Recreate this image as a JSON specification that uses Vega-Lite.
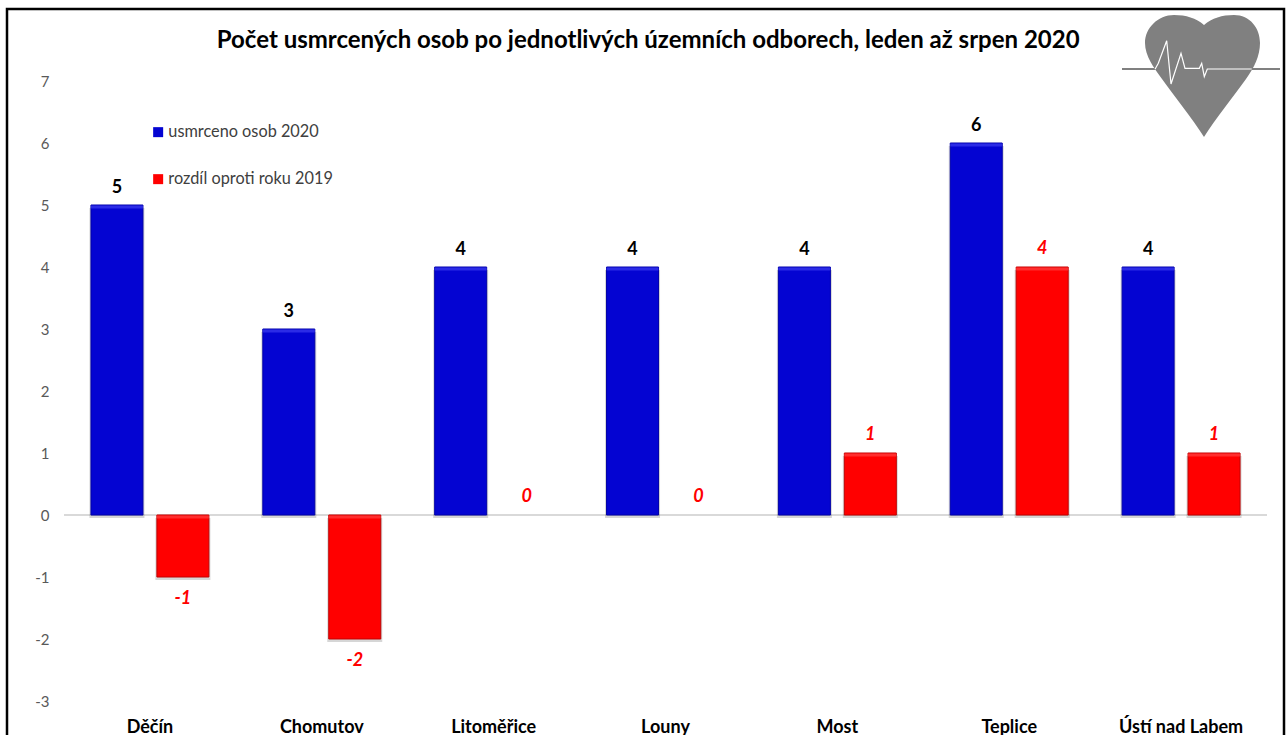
{
"$schema":"https://vega.github.io/schema/vega-lite/v6.json",
"width":1203,"height":620,
"autosize":{"type":"none"},
"padding":{"left":64,"top":81,"right":21,"bottom":34},
"background":"white",
"config":{"font":"Lato","view":{"stroke":null}},
"title":{"text":"Počet usmrcených osob po jednotlivých územních odborech, leden až srpen 2020","font":"Lato","fontSize":24,"fontWeight":"bold","color":"#000000","anchor":"start","offset":-45,"dx":211,"limit":1000},
"data":{"values":[
{"okres":"Děčín","rada":"usmrceno osob 2020","hodnota":5},
{"okres":"Děčín","rada":"rozdíl oproti roku 2019","hodnota":-1},
{"okres":"Chomutov","rada":"usmrceno osob 2020","hodnota":3},
{"okres":"Chomutov","rada":"rozdíl oproti roku 2019","hodnota":-2},
{"okres":"Litoměřice","rada":"usmrceno osob 2020","hodnota":4},
{"okres":"Litoměřice","rada":"rozdíl oproti roku 2019","hodnota":0},
{"okres":"Louny","rada":"usmrceno osob 2020","hodnota":4},
{"okres":"Louny","rada":"rozdíl oproti roku 2019","hodnota":0},
{"okres":"Most","rada":"usmrceno osob 2020","hodnota":4},
{"okres":"Most","rada":"rozdíl oproti roku 2019","hodnota":1},
{"okres":"Teplice","rada":"usmrceno osob 2020","hodnota":6},
{"okres":"Teplice","rada":"rozdíl oproti roku 2019","hodnota":4},
{"okres":"Ústí nad Labem","rada":"usmrceno osob 2020","hodnota":4},
{"okres":"Ústí nad Labem","rada":"rozdíl oproti roku 2019","hodnota":1}
]},
"encoding":{
"x":{"field":"okres","type":"nominal","sort":null,"title":null,
"scale":{"paddingInner":0.314,"paddingOuter":0.157},
"axis":{"domain":false,"ticks":false,"labelAngle":0,"labelFont":"Lato","labelFontSize":18,"labelFontWeight":"bold","labelColor":"#000000","labelPadding":17}},
"xOffset":{"field":"rada","type":"nominal","sort":["usmrceno osob 2020","rozdíl oproti roku 2019"],
"scale":{"domain":["usmrceno osob 2020","rozdíl oproti roku 2019"],"paddingInner":0.212,"paddingOuter":0}},
"y":{"field":"hodnota","type":"quantitative","title":null,
"scale":{"domain":[-3,7],"nice":false},
"axis":{"values":[-3,-2,-1,0,1,2,3,4,5,6,7],"labelExpr":"'' + datum.value","domain":false,"ticks":false,"grid":false,"labelFont":"Lato","labelFontSize":15,"labelColor":"#595959","labelPadding":15}}
},
"layer":[
{"mark":{"type":"rule","color":"#d9d9d9","strokeWidth":1.5},"encoding":{"x":{},"xOffset":{},"y":{"datum":0}}},
{"transform":[{"filter":"datum.hodnota !== 0"}],
"mark":{"type":"bar","size":55,"color":"#000000","opacity":0.16,"yOffset":3,"y2Offset":3},
"encoding":{"y2":{"datum":0}}},
{"transform":[{"filter":"datum.hodnota !== 0"}],
"mark":{"type":"bar","size":52,"strokeWidth":1},
"encoding":{
"color":{"field":"rada","type":"nominal","sort":["usmrceno osob 2020","rozdíl oproti roku 2019"],"title":null,
"scale":{"domain":["usmrceno osob 2020","rozdíl oproti roku 2019"],"range":["#0404D2","#FF0000"]},
"legend":{"orient":"none","legendX":86,"legendY":43,"symbolType":"square","symbolSize":100,"symbolStrokeWidth":0,"labelFont":"Lato","labelFontSize":16.3,"labelColor":"#404040","labelLimit":400,"rowPadding":30,"labelOffset":2,"direction":"vertical"}},
"stroke":{"field":"rada","type":"nominal","scale":{"domain":["usmrceno osob 2020","rozdíl oproti roku 2019"],"range":["#0000A8","#C00000"]},"legend":null},
"y2":{"datum":0}}},
{"transform":[{"filter":"datum.hodnota > 0"}],
"mark":{"type":"tick","bandSize":50,"thickness":3,"yOffset":2},
"encoding":{"color":{"condition":{"test":"datum.rada === 'usmrceno osob 2020'","value":"#3C3CEE"},"value":"#FF4040"}}},
{"transform":[{"filter":"datum.hodnota < 0"}],
"mark":{"type":"tick","bandSize":50,"thickness":3,"yOffset":2},
"encoding":{"y":{"datum":0},"color":{"value":"#FF4040"}}},
{"transform":[{"filter":"datum.rada === 'usmrceno osob 2020'"}],
"mark":{"type":"text","font":"Lato","fontSize":18,"fontWeight":"bold","color":"#000000","dy":-17},
"encoding":{"text":{"field":"hodnota","type":"nominal"}}},
{"transform":[{"filter":"datum.rada !== 'usmrceno osob 2020' && datum.hodnota >= 0"}],
"mark":{"type":"text","font":"Lato","fontSize":18,"fontWeight":"bold","fontStyle":"italic","color":"#FF0000","dy":-18},
"encoding":{"text":{"field":"hodnota","type":"nominal"}}},
{"transform":[{"filter":"datum.rada !== 'usmrceno osob 2020' && datum.hodnota < 0"}],
"mark":{"type":"text","font":"Lato","fontSize":18,"fontWeight":"bold","fontStyle":"italic","color":"#FF0000","dy":22},
"encoding":{"text":{"field":"hodnota","type":"nominal"}}},
{"data":{"values":[{"prvek":"srdce"}]},
"mark":{"type":"point","filled":true,"color":"#808080","opacity":1,"size":4,"shape":"M0,-51 C8,-58 18,-61 30,-61 C46,-61 56,-48 56,-33 C56,-20 50,-8 42,3 C30,20 12,42 0,61 C-12,42 -30,20 -42,3 C-50,-8 -59,-20 -59,-33 C-59,-48 -46,-61 -30,-61 C-18,-61 -8,-58 0,-51 Z M-82,-8 L76,-8 L76,-6 L-82,-6 Z"},
"encoding":{"x":{"value":1140},"y":{"value":-5},"xOffset":{}}},
{"data":{"values":[{"prvek":"ekg"}]},
"mark":{"type":"point","filled":false,"stroke":"#ffffff","strokeWidth":1.2,"opacity":1,"size":4,"shape":"M-49,-6.7 L-45.7,-12.7 L-37.3,-35.3 L-33,8 L-23,-22.7 L-19,-7.7 L-4.7,-7.7 L-2.3,-12.7 L0.3,0.7 L3.3,-7 L47.7,-7"},
"encoding":{"x":{"value":1140},"y":{"value":-5},"xOffset":{}}},
{"data":{"values":[{"prvek":"ramecek"}]},
"mark":{"type":"rect","filled":false,"stroke":"#000000","strokeWidth":2.5,"opacity":1},
"encoding":{"x":{"value":-57},"x2":{"value":1220},"y":{"value":-72},"y2":{"value":700},"xOffset":{}}}
]
}
